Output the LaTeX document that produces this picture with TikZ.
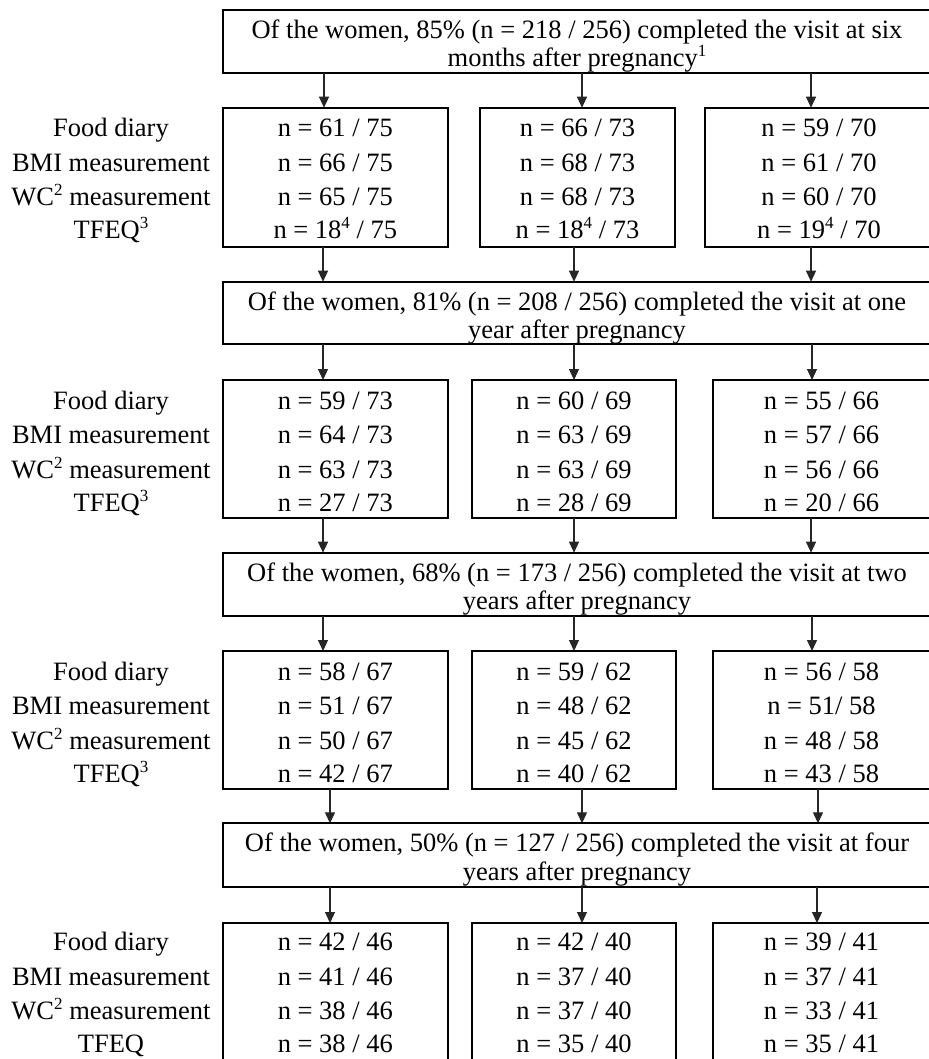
\documentclass[tikz,border=0pt]{standalone}
\usepackage{fontspec}
\setmainfont{Liberation Serif}
\usetikzlibrary{arrows.meta}
\newcommand\supn[1]{\raisebox{10pt}{\fontsize{17}{17}\selectfont #1}}
\newcommand\cellfour[7]{%
  \node[txt] (#1a) at (#2,#3+29) {#4};
  \node[txt] (#1b) at (#2,#3+63.5) {#5};
  \node[txt] (#1c) at (#2,#3+98) {#6};
  \node[txt] (#1d) at (#2,#3+131) {#7};}
\begin{document}
\begin{tikzpicture}[x=1pt,y=-1pt,
  box/.style={draw=black,line width=1.8pt,inner sep=0pt,outer sep=0pt,anchor=north west},
  txt/.style={anchor=base,inner sep=0pt,font=\fontsize{26.5}{30}\selectfont},
  arr/.style={draw=black!85,line width=1.2pt,-{Triangle[width=10pt,length=11pt]}}]
\useasboundingbox (0,0) rectangle (928,1059);
\fill[white] (0,0) rectangle (928,1059);

% ---------------- period 1 ----------------
\node[box,minimum width=708.3pt,minimum height=62.7pt] (B1) at (222.7,10) {};
\node[txt] (B1l1) at (577,38.3) {Of the women, 85\% (n = 218 / 256) completed the visit at six};
\node[txt] (B1l2) at (577,67) {months after pregnancy\supn{1}};
\node[box,minimum width=225.3pt,minimum height=139pt] (R11) at (222.7,107.7) {};
\node[box,minimum width=195pt,minimum height=139pt] (R12) at (480,107.7) {};
\node[box,minimum width=228pt,minimum height=139pt] (R13) at (705,107.7) {};
\cellfour{L1}{111}{107.7}{Food diary}{BMI measurement}{WC\supn{2} measurement}{TFEQ\supn{3}}
\cellfour{T11}{335.3}{107.7}{n = 61 / 75}{n = 66 / 75}{n = 65 / 75}{n = 18\supn{4} / 75}
\cellfour{T12}{577.5}{107.7}{n = 66 / 73}{n = 68 / 73}{n = 68 / 73}{n = 18\supn{4} / 73}
\cellfour{T13}{819}{107.7}{n = 59 / 70}{n = 61 / 70}{n = 60 / 70}{n = 19\supn{4} / 70}

% ---------------- period 2 ----------------
\node[box,minimum width=708.3pt,minimum height=62.3pt] (B2) at (222.7,281.7) {};
\node[txt] (B2l1) at (577,310) {Of the women, 81\% (n = 208 / 256) completed the visit at one};
\node[txt] (B2l2) at (577,338.7) {year after pregnancy};
\node[box,minimum width=225.3pt,minimum height=137.7pt] (R21) at (222.7,380) {};
\node[box,minimum width=204pt,minimum height=137.7pt] (R22) at (472,380) {};
\node[box,minimum width=218pt,minimum height=137.7pt] (R23) at (713,380) {};
\cellfour{L2}{111}{380}{Food diary}{BMI measurement}{WC\supn{2} measurement}{TFEQ\supn{3}}
\cellfour{T21}{335.3}{380}{n = 59 / 73}{n = 64 / 73}{n = 63 / 73}{n = 27 / 73}
\cellfour{T22}{574}{380}{n = 60 / 69}{n = 63 / 69}{n = 63 / 69}{n = 28 / 69}
\cellfour{T23}{821.5}{380}{n = 55 / 66}{n = 57 / 66}{n = 56 / 66}{n = 20 / 66}

% ---------------- period 3 ----------------
\node[box,minimum width=708.3pt,minimum height=63pt] (B3) at (222.7,552.7) {};
\node[txt] (B3l1) at (577,581) {Of the women, 68\% (n = 173 / 256) completed the visit at two};
\node[txt] (B3l2) at (577,609.7) {years after pregnancy};
\node[box,minimum width=225.3pt,minimum height=138pt] (R31) at (222.7,651) {};
\node[box,minimum width=204pt,minimum height=138pt] (R32) at (472,651) {};
\node[box,minimum width=218pt,minimum height=138pt] (R33) at (713,651) {};
\cellfour{L3}{111}{651}{Food diary}{BMI measurement}{WC\supn{2} measurement}{TFEQ\supn{3}}
\cellfour{T31}{335.3}{651}{n = 58 / 67}{n = 51 / 67}{n = 50 / 67}{n = 42 / 67}
\cellfour{T32}{574}{651}{n = 59 / 62}{n = 48 / 62}{n = 45 / 62}{n = 40 / 62}
\cellfour{T33}{821.5}{651}{n = 56 / 58}{n = 51/ 58}{n = 48 / 58}{n = 43 / 58}

% ---------------- period 4 ----------------
\node[box,minimum width=708.3pt,minimum height=63.4pt] (B4) at (222.7,823.3) {};
\node[txt] (B4l1) at (577,851.6) {Of the women, 50\% (n = 127 / 256) completed the visit at four};
\node[txt] (B4l2) at (577,880.3) {years after pregnancy};
\node[box,minimum width=225.3pt,minimum height=138pt] (R41) at (222.7,923) {};
\node[box,minimum width=204pt,minimum height=138pt] (R42) at (472,923) {};
\node[box,minimum width=218pt,minimum height=138pt] (R43) at (713,923) {};
\cellfour{L4}{111}{921.5}{Food diary}{BMI measurement}{WC\supn{2} measurement}{TFEQ}
\cellfour{T41}{335.3}{921.5}{n = 42 / 46}{n = 41 / 46}{n = 38 / 46}{n = 38 / 46}
\cellfour{T42}{574}{921.5}{n = 42 / 40}{n = 37 / 40}{n = 37 / 40}{n = 35 / 40}
\cellfour{T43}{821.5}{921.5}{n = 39 / 41}{n = 37 / 41}{n = 33 / 41}{n = 35 / 41}

% ---------------- arrows ----------------
\draw[arr] (324,0 |- B1.south) -- (324,0 |- R11.north);
\draw[arr] (582,0 |- B1.south) -- (582,0 |- R12.north);
\draw[arr] (811,0 |- B1.south) -- (811,0 |- R13.north);
\draw[arr] (323,0 |- R11.south) -- (323,0 |- B2.north);
\draw[arr] (574,0 |- R12.south) -- (574,0 |- B2.north);
\draw[arr] (811,0 |- R13.south) -- (811,0 |- B2.north);

\draw[arr] (323,0 |- B2.south) -- (323,0 |- R21.north);
\draw[arr] (574,0 |- B2.south) -- (574,0 |- R22.north);
\draw[arr] (812,0 |- B2.south) -- (812,0 |- R23.north);
\draw[arr] (323,0 |- R21.south) -- (323,0 |- B3.north);
\draw[arr] (574,0 |- R22.south) -- (574,0 |- B3.north);
\draw[arr] (811,0 |- R23.south) -- (811,0 |- B3.north);

\draw[arr] (323,0 |- B3.south) -- (323,0 |- R31.north);
\draw[arr] (574,0 |- B3.south) -- (574,0 |- R32.north);
\draw[arr] (812,0 |- B3.south) -- (812,0 |- R33.north);
\draw[arr] (330,0 |- R31.south) -- (330,0 |- B4.north);
\draw[arr] (582,0 |- R32.south) -- (582,0 |- B4.north);
\draw[arr] (818,0 |- R33.south) -- (818,0 |- B4.north);

\draw[arr] (330,0 |- B4.south) -- (330,0 |- R41.north);
\draw[arr] (582,0 |- B4.south) -- (582,0 |- R42.north);
\draw[arr] (817,0 |- B4.south) -- (817,0 |- R43.north);
\end{tikzpicture}
\end{document}
